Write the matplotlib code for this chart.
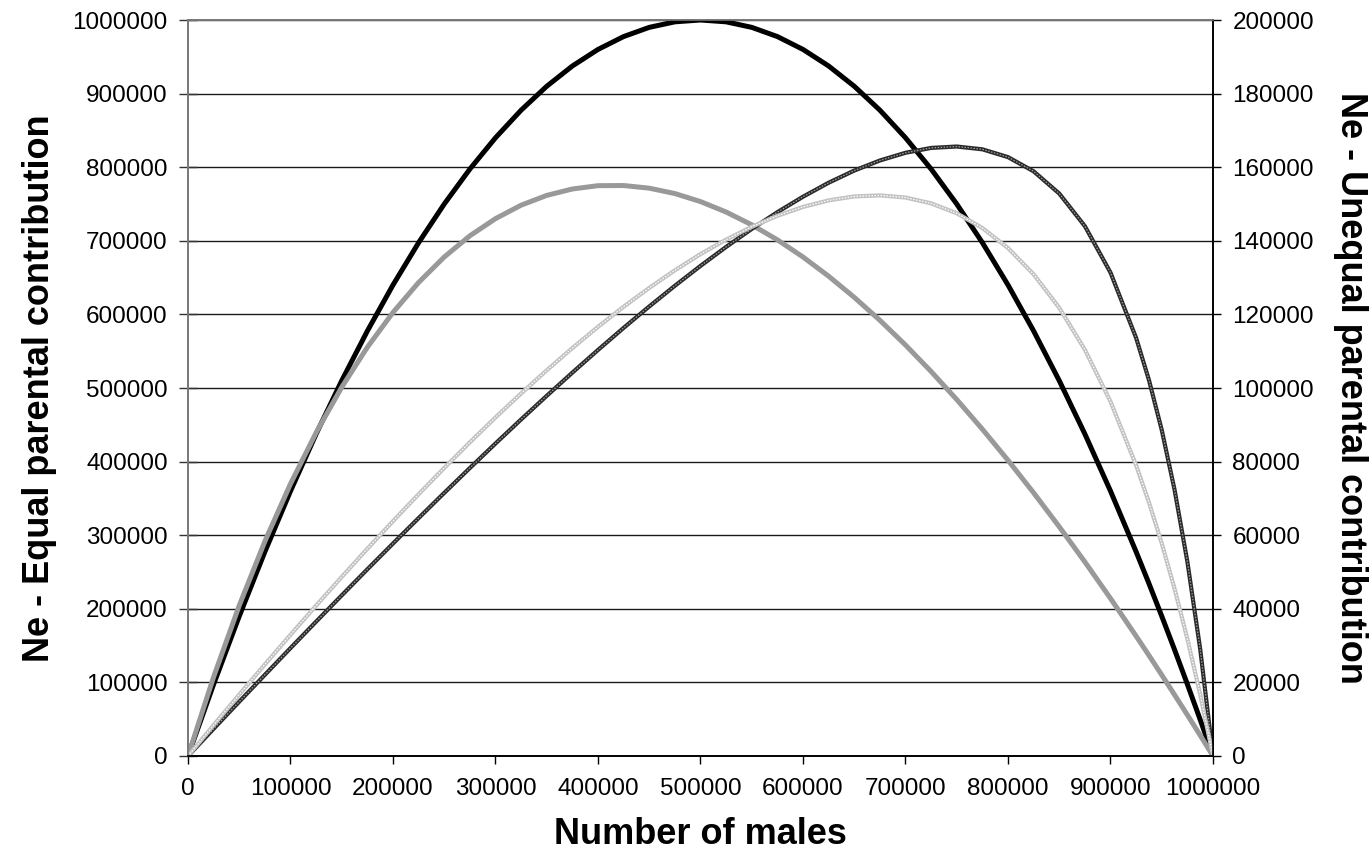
import matplotlib
matplotlib.use("Agg")
import matplotlib.pyplot as plt
from matplotlib.ticker import MultipleLocator, FuncFormatter

plt.rcParams['font.family'] = ['Liberation Sans', 'DejaVu Sans']

# number of males (total population 1 000 000)
males = [0, 25000, 50000, 75000, 100000, 125000, 150000, 175000, 200000, 225000,
         250000, 275000, 300000, 325000, 350000, 375000, 400000, 425000, 450000, 475000,
         500000, 525000, 550000, 575000, 600000, 625000, 650000, 675000, 700000, 725000,
         750000, 775000, 800000, 825000, 850000, 875000, 900000, 925000, 937500, 950000,
         962500, 975000, 987500, 1000000]

# left axis - equal parental contribution
ne_equal = [0, 97500, 190000, 277500, 360000, 437500, 510000, 577500, 640000, 697500,
            750000, 797500, 840000, 877500, 910000, 937500, 960000, 977500, 990000, 997500,
            1000000, 997500, 990000, 977500, 960000, 937500, 910000, 877500, 840000, 797500,
            750000, 697500, 640000, 577500, 510000, 437500, 360000, 277500, 234400, 190000,
            144400, 97500, 49400, 0]
ne_equal_grey = [0, 107500, 204500, 291700, 369800, 439400, 501100, 555400, 602700, 643400,
                 678000, 706800, 730100, 748400, 761700, 770400, 774900, 775100, 771500, 764200,
                 753300, 739100, 721700, 701300, 678000, 651900, 623200, 592000, 558400, 522400,
                 484300, 444000, 401800, 357600, 311500, 263700, 214100, 162900, 136700, 110100,
                 83100, 55800, 28100, 0]

# right axis - unequal parental contribution
ne_unequal_dark = [0, 7400, 14760, 22060, 29320, 36520, 43660, 50740, 57740, 64660,
                   71500, 78260, 84920, 91460, 97880, 104180, 110340, 116340, 122160, 127780,
                   133180, 138340, 143220, 147780, 151980, 155780, 159080, 161820, 163920, 165240,
                   165620, 164860, 162740, 158880, 152840, 143980, 131360, 113600, 102180, 88580,
                   72340, 52800, 29080, 0]
ne_unequal_light = [0, 8400, 16700, 24880, 32940, 40880, 48660, 56320, 63820, 71140,
                    78280, 85240, 92000, 98520, 104820, 110860, 116620, 122080, 127200, 131980,
                    136380, 140320, 143820, 146800, 149200, 150980, 152060, 152340, 151760, 150180,
                    147480, 143480, 138040, 130900, 121800, 110420, 96320, 79000, 68920, 57780,
                    45460, 31820, 16730, 0]

fig = plt.figure(figsize=(13.72, 8.59), dpi=100)
ax = fig.add_axes([188 / 1372, 103 / 859, 1025 / 1372, 736 / 859])
ax2 = ax.twinx()

plain = FuncFormatter(lambda v, p: "%d" % v)

ax.set_xlim(0, 1000000)
ax.set_ylim(0, 1000000)
ax2.set_ylim(0, 200000)
ax.xaxis.set_major_locator(MultipleLocator(100000))
ax.yaxis.set_major_locator(MultipleLocator(100000))
ax2.yaxis.set_major_locator(MultipleLocator(20000))
for a in (ax.xaxis, ax.yaxis, ax2.yaxis):
    a.set_major_formatter(plain)

ax.grid(axis='y', color='#1a1a1a', lw=1.0)
ax.set_axisbelow(True)

ax.plot(males, ne_equal, color='black', lw=3.6, solid_capstyle='butt', zorder=3)
ax.plot(males, ne_equal_grey, color='#999999', lw=3.6, solid_capstyle='butt', zorder=3)

# thin "textured" series on the right axis
ax2.plot(males, ne_unequal_dark, color='#2a2a2a', lw=3.0)
ax2.plot(males, ne_unequal_dark, color='#a0a0a0', lw=0.9, ls=(0, (1.2, 1.2)))
ax2.plot(males, ne_unequal_light, color='#c2c2c2', lw=3.0)
ax2.plot(males, ne_unequal_light, color='white', lw=0.9, ls=(0, (1.2, 1.2)))

for a in (ax, ax2):
    a.spines['top'].set_color('#777777')
    a.spines['left'].set_color('#777777')
    a.spines['right'].set_color('black')
    a.spines['bottom'].set_color('black')
    for s in a.spines.values():
        s.set_linewidth(1.2)

ax.tick_params(axis='x', direction='out', length=6, width=1, pad=10, labelsize=17.5)
ax.tick_params(axis='y', direction='inout', length=13, width=1, pad=8, labelsize=17.5,
               color='#333333')
ax2.tick_params(axis='y', direction='out', length=6, width=1, pad=8, labelsize=17.5)

ax.set_xlabel('Number of males', fontsize=26, fontweight='bold')
ax.xaxis.set_label_coords(0.5, -0.083)
ax.set_ylabel('Ne - Equal parental contribution', fontsize=26, fontweight='bold')
ax.yaxis.set_label_coords(-0.128, 0.5)
ax2.set_ylabel('Ne - Unequal parental contribution', fontsize=26, fontweight='bold',
               rotation=270, va='bottom')
ax2.yaxis.set_label_coords(1.117, 0.5)

fig.savefig('out.png', dpi=100)
